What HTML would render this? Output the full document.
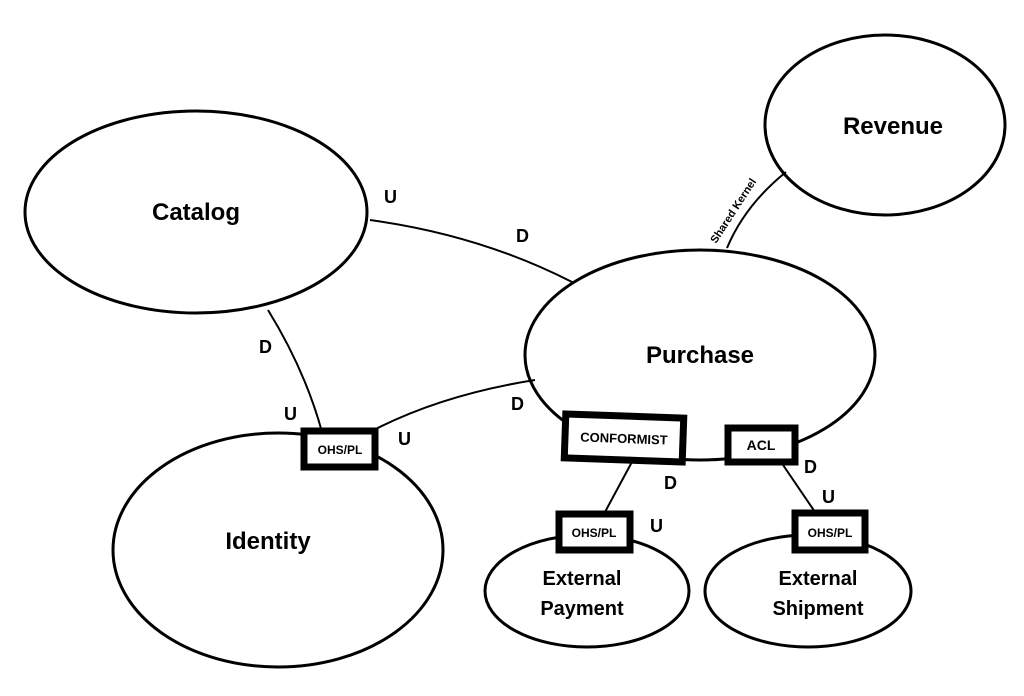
<!DOCTYPE html>
<html><head><style>
html,body{margin:0;padding:0;background:#fff;}
svg{display:block;}
text{font-family:"Liberation Sans",sans-serif;font-weight:bold;fill:#000;}
</style></head><body>
<svg width="1024" height="696" viewBox="0 0 1024 696" xmlns="http://www.w3.org/2000/svg">
<g fill="none" stroke="#000" stroke-width="3">
<ellipse cx="196" cy="212" rx="171" ry="101"/>
<ellipse cx="885" cy="125" rx="120" ry="90"/>
<ellipse cx="700" cy="355" rx="175" ry="105"/>
<ellipse cx="278" cy="550" rx="165" ry="117"/>
<ellipse cx="587" cy="591" rx="102" ry="56"/>
<ellipse cx="808" cy="591" rx="103" ry="56"/>
</g>
<g fill="none" stroke="#000" stroke-width="2">
<path d="M370 220 Q480 235 572 282"/>
<path d="M786 172 Q745 205 727 248"/>
<path d="M268 310 Q305 370 322 432"/>
<path d="M370 432 Q440 395 535 380"/>
<path d="M633 460 L605 512"/>
<path d="M781 462 L815 512"/>
</g>
<g fill="#fff" stroke="#000" stroke-width="7">
<rect x="304" y="431" width="71" height="36"/>
<rect x="565" y="416" width="118" height="44" transform="rotate(2 624 438)"/>
<rect x="728" y="428" width="67" height="34"/>
<rect x="559" y="514" width="71" height="36"/>
<rect x="795" y="513" width="70" height="37"/>
</g>
<g text-anchor="middle">
<text x="196" y="220" font-size="24">Catalog</text>
<text x="893" y="134" font-size="24">Revenue</text>
<text x="700" y="363" font-size="24">Purchase</text>
<text x="268" y="549" font-size="24">Identity</text>
<text x="582" y="585" font-size="20">External</text>
<text x="582" y="615" font-size="20">Payment</text>
<text x="818" y="585" font-size="20">External</text>
<text x="818" y="615" font-size="20">Shipment</text>
<text x="340" y="454" font-size="12">OHS/PL</text>
<text x="624" y="443" font-size="13" transform="rotate(2 624 438)">CONFORMIST</text>
<text x="761" y="450" font-size="14">ACL</text>
<text x="594" y="537" font-size="12">OHS/PL</text>
<text x="830" y="537" font-size="12">OHS/PL</text>
</g>
<g font-size="18">
<text x="384" y="203">U</text>
<text x="516" y="242">D</text>
<text x="259" y="353">D</text>
<text x="284" y="420">U</text>
<text x="398" y="445">U</text>
<text x="511" y="410">D</text>
<text x="664" y="489">D</text>
<text x="650" y="532">U</text>
<text x="804" y="473">D</text>
<text x="822" y="503">U</text>
</g>
<text x="0" y="0" font-size="11" transform="translate(716 244) rotate(-57)">Shared Kernel</text>
</svg>
</body></html>
